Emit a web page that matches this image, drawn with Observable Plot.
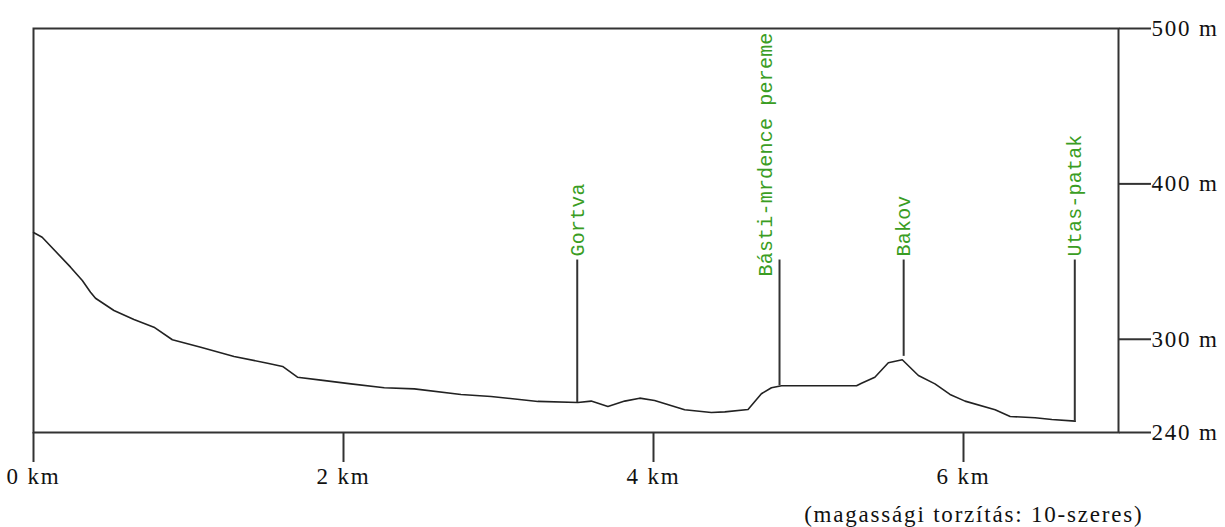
<!DOCTYPE html>
<html>
<head>
<meta charset="utf-8">
<script src="https://cdn.jsdelivr.net/npm/d3@7"></script>
<script src="https://cdn.jsdelivr.net/npm/@observablehq/plot@0.6"></script>
<style>
  html, body { margin: 0; padding: 0; background: #fff; }
</style>
</head>
<body>
<div id="chart"></div>
<script>
// Profile: distance (km) and elevation (m)
const km = [0, 0.056, 0.239, 0.315, 0.368, 0.40, 0.519, 0.648, 0.777, 0.896, 1.079, 1.294, 1.510, 1.607, 1.703, 1.854, 2.048, 2.263, 2.457, 2.758, 2.952, 3.254, 3.512, 3.598, 3.706, 3.814, 3.911, 4.007, 4.201, 4.373, 4.46, 4.61, 4.696, 4.761, 4.826, 5.31, 5.342, 5.428, 5.515, 5.605, 5.709, 5.816, 5.913, 6.010, 6.204, 6.301, 6.462, 6.57, 6.721];
const elev = [368.7, 365.7, 346.4, 337.8, 330.3, 326.4, 318.5, 312.7, 307.8, 299.7, 294.9, 288.9, 284.6, 282.5, 275.6, 273.7, 271.3, 268.8, 268.1, 264.5, 263.2, 260.0, 259.3, 260.2, 256.7, 260.2, 262.1, 260.6, 254.6, 252.9, 253.3, 254.8, 264.9, 268.8, 270.1, 270.1, 271.7, 275.6, 284.9, 286.8, 276.7, 271.3, 264.5, 260.2, 254.6, 250.3, 249.5, 248.4, 247.3];

// Named places along the profile
const placeNames = ["Gortva", "Básti-mrdence pereme", "Bakov", "Utas-patak"];
const placeKm = [3.508, 4.813, 5.614, 6.718];
const placeElev = [259.3, 270.1, 289.0, 247.3];

// Axis ticks
const xTicks = [0, 2, 4, 6];
const yTicks = [240, 300, 400, 500];
const caption = "(magassági torzítás: 10-szeres)";

const profile = km.map((k, i) => ({km: k, elev: elev[i]}));
const places = placeNames.map((n, i) => ({name: n, km: placeKm[i], elev: placeElev[i]}));

const LABEL_TOP = 351;    // elevation where the marker lines end
const LABEL_BASE = 353.3; // elevation where the labels start
const green = "#3a9d23";
const serif = "Liberation Serif, Times New Roman, serif";

const plot = Plot.plot({
  width: 1225,
  height: 527,
  marginLeft: 33,
  marginRight: 107,
  marginTop: 28,
  marginBottom: 95,
  style: {fontFamily: serif, fontSize: "23px", color: "#111", background: "#fff"},
  x: {domain: [0, 7]},
  y: {domain: [240, 500]},
  marks: [
    Plot.frame({stroke: "#333", strokeWidth: 2}),
    Plot.axisX({ticks: xTicks, tickSize: 30, tickPadding: 5, tickFormat: d => `${d} km`,
      fontSize: 23, stroke: "#333", strokeWidth: 2, label: null}),
    Plot.axisY({anchor: "right", ticks: yTicks, tickSize: 32, tickPadding: 1, tickFormat: d => `${d} m`,
      fontSize: 23, stroke: "#333", strokeWidth: 2, label: null}),
    Plot.line(profile, {x: "km", y: "elev", stroke: "#222", strokeWidth: 1.6}),
    Plot.ruleX(places, {x: "km", y1: "elev", y2: () => LABEL_TOP, stroke: "#333", strokeWidth: 2}),
    Plot.text(places.filter(d => !d.name.startsWith("Básti")), {
      x: "km", y: () => LABEL_BASE, text: "name", rotate: -90,
      textAnchor: "start", lineAnchor: "middle",
      fill: green, fontFamily: "Liberation Mono, monospace", fontSize: 20
    }),
    Plot.text(places.filter(d => d.name.startsWith("Básti")), {
      x: "km", y: () => 340.4, text: "name", rotate: -90, dx: -14,
      textAnchor: "start", lineAnchor: "middle",
      fill: green, fontFamily: "Liberation Mono, monospace", fontSize: 20
    }),
    Plot.text([caption], {
      text: d => d, frameAnchor: "bottom-right", textAnchor: "end", lineAnchor: "middle",
      dx: 25, dy: 82, fontFamily: serif, fontSize: 23, fill: "#111"
    })
  ]
});

document.getElementById("chart").appendChild(plot);
d3.select(plot).selectAll("text").each(function() {
  const fill = this.getAttribute("fill") || (this.parentNode && this.parentNode.getAttribute("fill"));
  if (fill === green) this.style.letterSpacing = "0.2px";
  else this.style.letterSpacing = "1.8px";
});
</script>
</body>
</html>
